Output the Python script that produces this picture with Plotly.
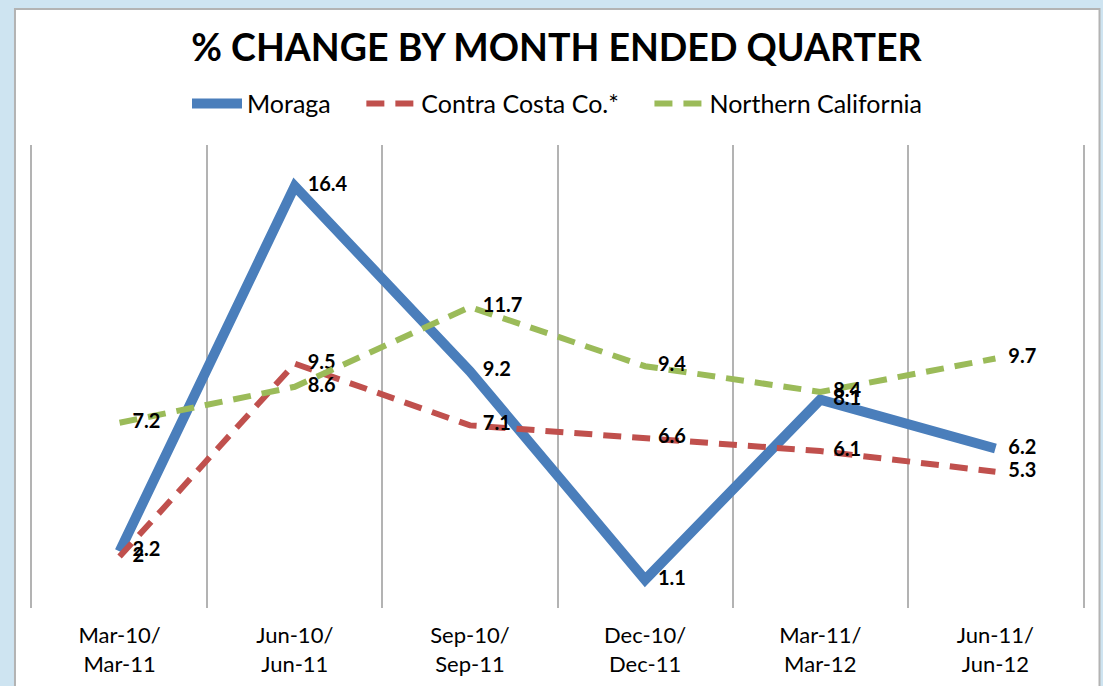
import plotly.graph_objects as go

categories = ["Mar-10/<br>Mar-11", "Jun-10/<br>Jun-11", "Sep-10/<br>Sep-11",
              "Dec-10/<br>Dec-11", "Mar-11/<br>Mar-12", "Jun-11/<br>Jun-12"]
moraga = [2.2, 16.4, 9.2, 1.1, 8.1, 6.2]
contra_costa = [2, 9.5, 7.1, 6.6, 6.1, 5.3]
northern_ca = [7.2, 8.6, 11.7, 9.4, 8.4, 9.7]
series_names = ["Moraga", "Contra Costa Co.*", "Northern California"]

NB = "\u00a0"
styles = [
    ("#4A7EBB", 10, "solid", NB * 4),
    ("#C0504D", 6, "18px,11px", NB * 4),
    ("#9BBB59", 6, "18px,11px", ""),
]

xpos = list(range(len(categories)))
FONT = "Lato"
GRID = "#B3B3B3"

fig = go.Figure()
for name, vals, (color, width, dash, pad) in zip(series_names,
                                                  [moraga, contra_costa, northern_ca],
                                                  styles):
    fig.add_trace(go.Scatter(
        x=xpos, y=vals, name=name + pad,
        mode="lines+markers+text",
        line=dict(color=color, width=width, dash=dash),
        marker=dict(size=19, color="rgba(0,0,0,0)"),
        text=[f"{v:g}" for v in vals],
        textposition="middle right",
        textfont=dict(family=FONT, size=20, color="black", weight="bold"),
    ))

# Frame: white panel over light-blue background
fig.add_shape(type="rect", xref="paper", yref="paper",
              x0=-0.0162, x1=1.0157, y0=-0.3, y1=1.294,
              fillcolor="white", line=dict(color=GRID, width=2), layer="below")

fig.update_layout(
    width=1103, height=686,
    margin=dict(l=32, r=20, t=145, b=78, autoexpand=False),
    paper_bgcolor="#CEE4F1",
    plot_bgcolor="rgba(0,0,0,0)",
    font=dict(family=FONT, color="black"),
    title=dict(text="<b>% CHANGE BY MONTH ENDED QUARTER</b>",
               x=0.5045, xanchor="center", y=0.930, yanchor="middle",
               font=dict(family=FONT, size=37.5, color="black")),
    legend=dict(orientation="h", x=0.5, xanchor="center", y=1.089, yanchor="middle",
                font=dict(family=FONT, size=25, color="black"),
                bgcolor="rgba(0,0,0,0)", itemwidth=50, tracegroupgap=0),
    showlegend=True,
    xaxis=dict(range=[-0.5, 5.5], tickvals=xpos, ticktext=categories,
               showgrid=False, zeroline=False, showline=False, ticks="",
               ticklabelstandoff=12,
               tickfont=dict(family=FONT, size=22, color="black"),
               minor=dict(tickvals=[i - 0.5 for i in range(len(categories) + 1)],
                          showgrid=True, gridcolor=GRID, gridwidth=1.5)),
    yaxis=dict(range=[0, 18], showticklabels=False, showgrid=False,
               zeroline=False, showline=True, mirror=True,
               linecolor=GRID, linewidth=1.5, ticks=""),
)

fig.write_html("out.html",
               config={"displayModeBar": False},
               post_script="document.body.style.margin='0px';document.body.style.overflow='hidden';")
